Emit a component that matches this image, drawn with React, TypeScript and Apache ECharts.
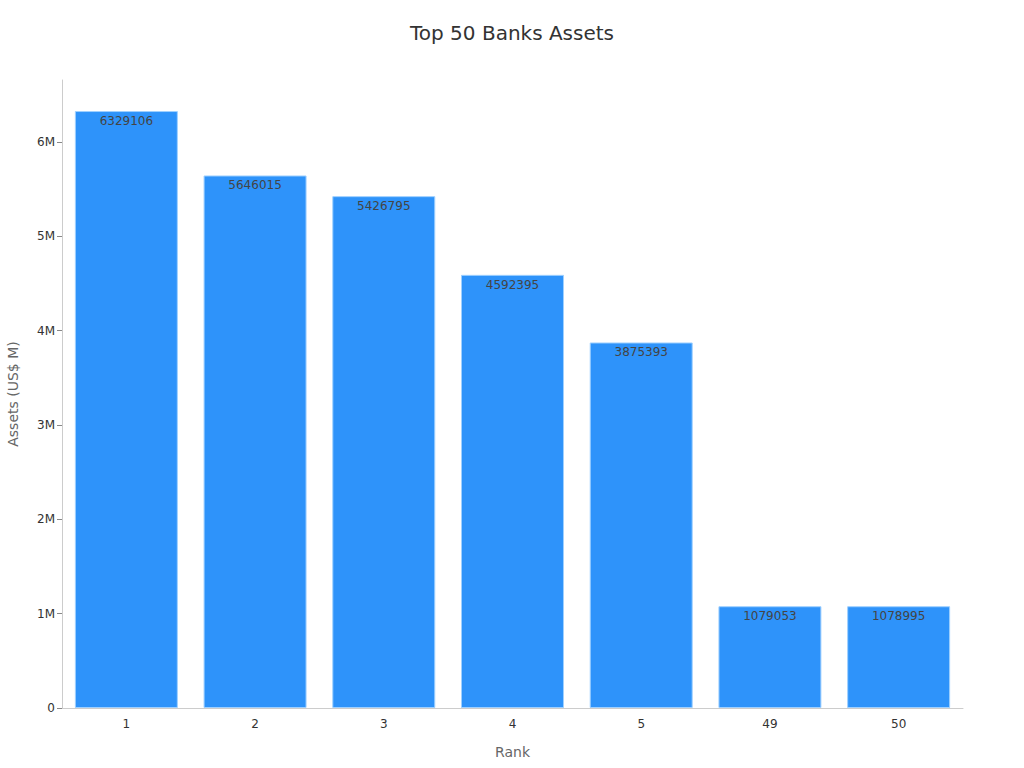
import React, { useEffect, useRef } from "react";
import * as echarts from "echarts";

const categories = ["1", "2", "3", "4", "5", "49", "50"];
const assets = [6329106, 5646015, 5426795, 4592395, 3875393, 1079053, 1078995];
const yTickLabels = ["0", "1M", "2M", "3M", "4M", "5M", "6M"];

export default function App() {
  const ref = useRef<HTMLDivElement>(null);
  useEffect(() => {
    document.body.style.margin = "0";
    const chart = echarts.init(ref.current!, null, { renderer: "svg" });
    const font = "DejaVu Sans";
    chart.setOption({
      animation: false,
      textStyle: { fontFamily: font },
      title: {
        text: "Top 50 Banks Assets",
        left: "center",
        top: 18,
        textStyle: { fontFamily: font, fontSize: 20, fontWeight: "normal", color: "#333" },
      },
      grid: { left: 62, right: 61, top: 80, bottom: 60, containLabel: false, outerBoundsMode: "none" },
      xAxis: {
        type: "category",
        data: categories,
        name: "Rank",
        nameLocation: "middle",
        nameGap: 37,
        nameTextStyle: { fontFamily: font, fontSize: 14, color: "#666" },
        axisLine: { lineStyle: { color: "#ccc" } },
        axisTick: { alignWithLabel: true, length: 5, lineStyle: { color: "#888" } },
        axisLabel: { fontFamily: font, fontSize: 12, color: "#333", margin: 10 },
      },
      yAxis: {
        type: "value",
        min: 0,
        max: (v: { max: number }) => v.max * 1.052,
        interval: 1000000,
        name: "Assets (US$ M)",
        nameLocation: "middle",
        nameGap: 42,
        nameTextStyle: { fontFamily: font, fontSize: 14, color: "#666" },
        axisLine: { show: true, lineStyle: { color: "#ccc" } },
        axisTick: { show: true, length: 5, lineStyle: { color: "#888" } },
        splitLine: { show: false },
        axisLabel: {
          fontFamily: font,
          fontSize: 12,
          color: "#333",
          margin: 7,
          formatter: (v: number) => {
            const i = Math.round(v / 1000000);
            return Math.abs(v - i * 1000000) < 1 && yTickLabels[i] !== undefined ? yTickLabels[i] : "";
          },
          showMaxLabel: false,
        },
      },
      series: [
        {
          type: "bar",
          data: assets,
          barCategoryGap: "20%",
          itemStyle: { color: "#2E93FA", borderColor: "#9fd0ff", borderWidth: 1 },
          label: {
            show: true,
            position: "insideTop",
            distance: 4,
            fontFamily: font,
            fontSize: 12,
            color: "#444",
          },
        },
      ],
    });
    return () => chart.dispose();
  }, []);
  return <div ref={ref} style={{ width: 1024, height: 768 }} />;
}
